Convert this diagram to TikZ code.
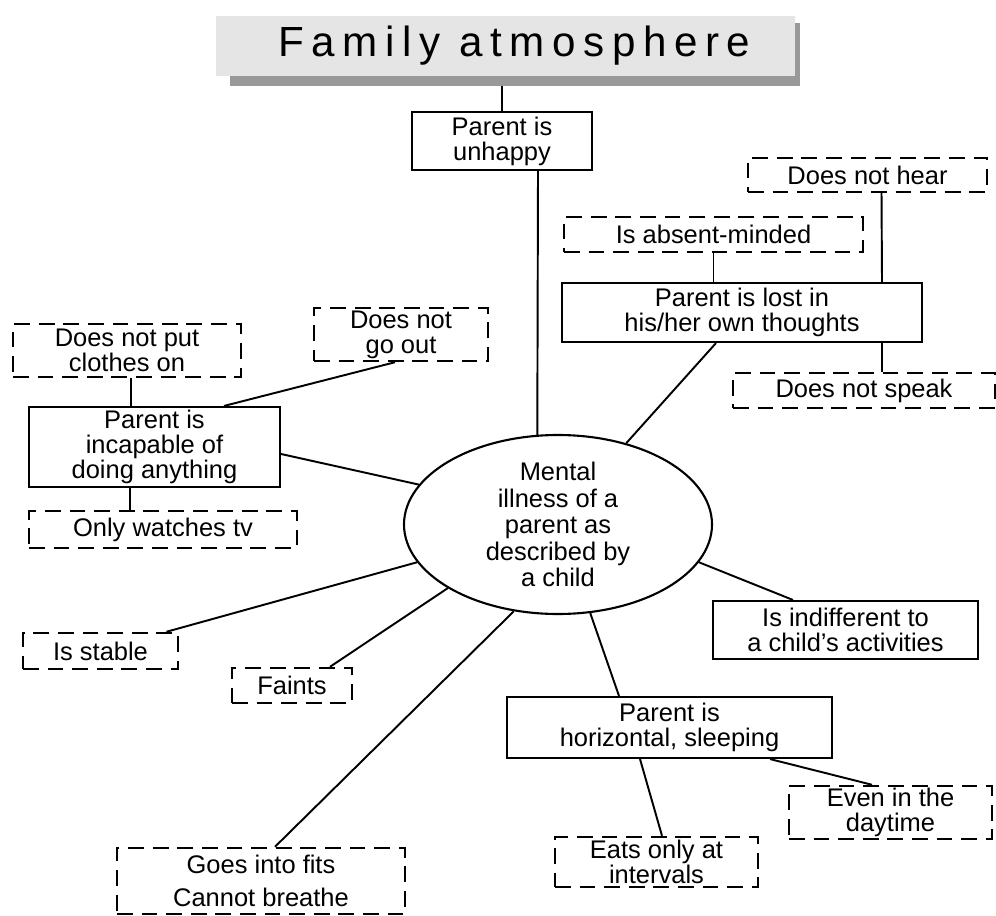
\documentclass[tikz,border=0pt]{standalone}
\usepackage{fontspec}
\setmainfont{Liberation Sans}
\usetikzlibrary{calc,shapes.geometric}

\tikzset{
    box/.style={draw, line width=1.2pt, inner sep=0pt, align=center,
        font=\fontsize{14.5}{14.2}\selectfont},
    dashbox/.style={box, line width=1.4pt, dash pattern=on 9pt off 5pt},
    sz/.style 2 args={minimum width=#1*0.02cm, minimum height=#2*0.02cm},
    link/.style={line width=1.1pt}
}

\begin{document}
\begin{tikzpicture}[x=0.02cm,y=-0.02cm]
        \useasboundingbox (0,0) rectangle (996,915);

        % title
        \node (shade) [fill=black!40, sz={570}{63}] at (515,54.5) {};
        \node (title) [fill=black!10, sz={579}{60}, inner sep=0pt,
            font=\fontsize{24}{28}\selectfont\addfontfeature{LetterSpace=18}]
            at (505.5,46) {\hspace*{10pt}Family atmosphere};

        % centre
        \node (ill) [draw, ellipse, line width=1.2pt, sz={308}{179}, inner sep=0pt,
            align=center, font=\fontsize{14.5}{15.1}\selectfont]
            at (558,524.5) {Mental\\illness of a\\parent as\\described by\\a child};

        % solid boxes
        \node (unhappy) [box, sz={180}{58}] at (502,141) {Parent is\\unhappy};
        \node (lost) [box, sz={360}{59}] at (742,312.5) {Parent is lost in\\his/her own thoughts};
        \node (incap) [box, sz={251}{80}] at (154.5,447) {Parent is\\incapable of\\doing anything};
        \node (indiff) [box, sz={265}{58}] at (845.5,630) {Is indifferent to\\a child's activities};
        \node (horiz) [box, sz={325}{61}] at (669.5,727.5) {Parent is\\horizontal, sleeping};

        % dashed boxes
        \node (hear) [dashbox, sz={239}{34}] at (867.5,175) {Does not hear};
        \node (absent) [dashbox, sz={299}{35}] at (713.5,234.5) {Is absent-minded};
        \node (speak) [dashbox, sz={262}{35}] at (864,390.5) {Does not speak};
        \node (clothes) [dashbox, sz={228}{53}] at (127,350.5) {Does not put\\clothes on};
        \node (goout) [dashbox, sz={174}{53}] at (401,334.5) {Does not\\go out};
        \node (tv) [dashbox, sz={268}{37}] at (163,529.5) {Only watches tv};
        \node (stable) [dashbox, sz={155}{36}] at (100.5,651) {Is stable};
        \node (faints) [dashbox, sz={120}{35}] at (292,685.5) {Faints};
        \node (fits) [dashbox, sz={288}{66}] at (261,881) {Goes into fits\\[5pt]Cannot breathe};
        \node (eats) [dashbox, sz={203}{50}] at (656.5,862) {Eats only at\\intervals};
        \node (even) [dashbox, sz={203}{53}] at (890.5,812.5) {Even in the\\daytime};

        % connectors
        \draw[link] (unhappy.north |- shade.south) -- (unhappy.north);
        \draw[link] ($(unhappy.south)+(36,0)$) -- (ill.103);
        \draw[link] (absent.south) -- (absent.south |- lost.north);
        \draw[link] ($(hear.south)+(14,0)$) -- ($(lost.north)+(140,0)$);
        \draw[link] ($(lost.south)+(140,0)$) -- ($(speak.north)+(18,0)$);
        \draw[link] ($(lost.south)+(-26,0)$) -- (ill.50);
        \draw[link] ($(clothes.south)+(4,0)$) -- ($(incap.north)+(-23.5,0)$);
        \draw[link] ($(goout.south)+(-6,0)$) -- ($(incap.north)+(69.5,0)$);
        \draw[link] ($(incap.east)+(0,7)$) -- (ill.164);
        \draw[link] ($(incap.south)+(-24.5,0)$) -- ($(tv.north)+(-33,0)$);
        \draw[link] ($(stable.north)+(66,0)$) -- (ill.195);
        \draw[link] ($(faints.north)+(38,0)$) -- (ill.210);
        \draw[link] ($(fits.north)+(14,0)$) -- (ill.243);
        \draw[link] (ill.290) -- ($(horiz.north)+(-50.5,0)$);
        \draw[link] (ill.345) -- ($(indiff.north)+(-52.5,0)$);
        \draw[link] ($(horiz.south)+(-29.5,0)$) -- ($(eats.north)+(5.5,0)$);
        \draw[link] ($(horiz.south)+(100.5,0)$) -- ($(even.north)+(-18.5,0)$);
    \end{tikzpicture}
\end{document}
